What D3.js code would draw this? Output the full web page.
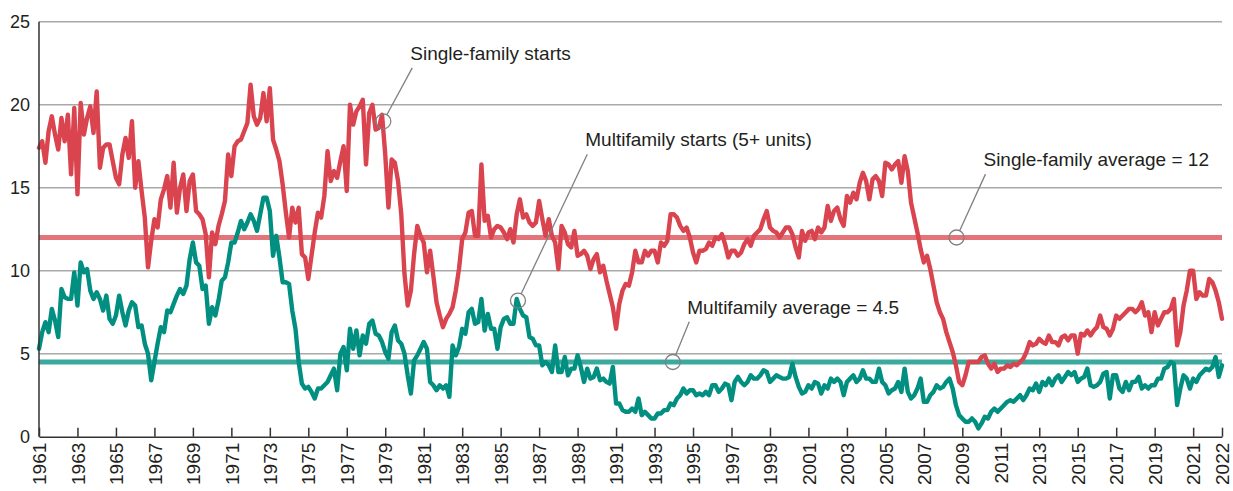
<!DOCTYPE html>
<html>
<head>
<meta charset="utf-8">
<script src="https://cdn.jsdelivr.net/npm/d3@7"></script>
<style>
  body { margin: 0; background: #fff; }
  svg { display: block; font-family: 'Liberation Sans', Arial, sans-serif; }
</style>
</head>
<body>
<div id="chart"></div>
<script>
// housing starts per 1,000 households, read every two months from Jan 1961 to mid 2022
const startYear = 1961;
const perYear = 6;

const singleFamily = [
  17.4, 17.8, 16.5, 18.4, 19.3, 18.2, // 1961
  17.3, 19.2, 17.8, 19.4, 15.8, 19.8,
  14.6, 20.1, 18.2, 19.2, 19.9, 18.3,
  20.8, 16.2, 17.4, 17.6, 17.6, 16.6,
  15.6, 15.2, 17.0, 18.0, 16.8, 19.0, // 1965
  15.0, 16.6, 14.8, 13.2, 10.2, 11.8,
  13.1, 12.6, 14.3, 14.9, 15.7, 13.8,
  16.5, 13.5, 15.0, 15.8, 13.6, 15.4,
  15.8, 13.6, 13.4, 13.1, 12.2, 9.6,
  12.3, 11.6, 12.7, 13.4, 14.2, 17.0, // 1970
  15.7, 17.5, 17.8, 17.9, 18.4, 18.9,
  21.2, 19.3, 18.8, 19.2, 20.7, 19.0,
  21.0, 17.9, 17.3, 16.6, 15.2, 13.5,
  12.0, 13.8, 12.9, 13.8, 11.0, 10.8,
  9.5, 10.9, 12.3, 13.5, 13.2, 14.5, // 1975
  17.2, 15.4, 16.0, 15.6, 16.6, 17.5,
  14.8, 20.0, 18.8, 19.6, 19.9, 20.3,
  16.4, 19.5, 20.0, 18.5, 18.6, 19.4,
  17.0, 13.8, 16.7, 16.5, 15.4, 13.4,
  9.8, 7.9, 8.8, 11.0, 12.7, 12.1, // 1980
  11.7, 9.9, 11.2, 9.7, 8.1, 7.3,
  6.6, 7.1, 7.4, 7.8, 8.8, 10.1,
  11.9, 12.3, 13.5, 13.6, 12.1, 12.1,
  16.4, 13.0, 13.3, 12.0, 12.5, 12.7,
  12.6, 12.3, 11.9, 12.5, 11.7, 13.4, // 1985
  14.3, 13.2, 13.4, 12.9, 12.7, 12.9,
  14.2, 13.1, 12.1, 13.1, 12.1, 11.7,
  10.1, 12.7, 12.3, 11.6, 11.4, 12.4,
  10.9, 11.0, 11.2, 10.9, 10.1, 10.7,
  11.0, 9.9, 10.3, 9.4, 8.6, 7.8, // 1990
  6.5, 8.0, 8.8, 9.2, 9.1, 9.9,
  11.2, 10.5, 10.5, 11.2, 10.9, 11.2,
  11.2, 10.5, 11.7, 11.5, 11.8, 13.4,
  13.4, 13.2, 12.7, 12.4, 12.6, 12.0,
  11.1, 10.5, 11.2, 11.2, 11.3, 11.7, // 1995
  11.5, 12.0, 11.9, 12.2, 11.6, 10.8,
  11.2, 11.2, 10.9, 11.1, 11.6, 11.9,
  11.5, 12.1, 12.3, 12.5, 13.1, 13.6,
  12.6, 12.4, 12.3, 12.0, 12.3, 12.6,
  12.6, 12.2, 11.4, 10.8, 12.4, 11.8, // 2000
  12.3, 12.4, 11.9, 12.6, 12.3, 12.6,
  13.9, 13.0, 13.6, 13.8, 13.1, 12.7,
  14.5, 14.1, 14.7, 14.3, 15.3, 15.9,
  15.4, 14.3, 15.5, 15.7, 15.4, 14.5,
  16.5, 16.4, 16.1, 16.4, 16.6, 15.3, // 2005
  16.9, 16.0, 14.1, 13.2, 12.3, 11.3,
  10.5, 10.9, 10.1, 9.1, 8.1, 7.5,
  7.1, 6.3, 5.7, 5.1, 4.3, 3.3,
  3.1, 3.7, 4.5, 4.5, 4.5, 4.5,
  4.8, 4.9, 4.4, 4.1, 4.4, 3.9, // 2010
  4.1, 4.1, 4.3, 4.2, 4.4, 4.3,
  4.5, 4.7, 5.1, 5.7, 5.5, 5.6,
  5.9, 5.7, 5.6, 6.1, 5.7, 5.7,
  5.5, 6.0, 6.1, 5.8, 6.1, 6.1,
  5.0, 6.2, 6.1, 6.4, 6.1, 6.4, // 2015
  6.6, 7.3, 6.6, 6.5, 6.1, 6.5,
  7.3, 7.1, 7.3, 7.5, 7.7, 7.7,
  7.5, 7.7, 8.1, 7.3, 7.5, 6.3,
  7.5, 6.7, 7.1, 7.5, 7.5, 7.7,
  8.3, 5.5, 6.3, 7.9, 8.8, 10.0, // 2020
  10.0, 8.3, 8.7, 8.5, 8.5, 9.5,
  9.3, 8.8, 8.1, 7.1
];

const multiFamily = [
  5.3, 6.3, 6.9, 6.3, 7.7, 7.0, // 1961
  6.0, 8.9, 8.4, 8.3, 8.3, 9.9,
  7.9, 10.5, 9.9, 10.1, 8.8, 8.3,
  8.7, 8.3, 7.6, 8.5, 7.1, 6.8,
  7.3, 8.5, 7.5, 6.7, 7.6, 8.1, // 1965
  7.9, 6.6, 6.7, 5.6, 5.0, 3.4,
  4.5, 5.6, 6.6, 6.3, 7.6, 7.5,
  8.0, 8.5, 8.9, 8.6, 9.1, 10.7,
  11.7, 10.5, 10.3, 8.9, 9.1, 6.8,
  7.8, 7.3, 8.2, 9.4, 9.6, 10.5, // 1970
  11.7, 11.7, 12.3, 13.0, 12.5, 12.9,
  13.4, 13.0, 12.4, 13.4, 14.4, 14.4,
  13.6, 10.9, 12.1, 10.8, 9.3, 9.3,
  9.2, 7.6, 6.5, 4.5, 3.2, 2.9,
  3.0, 2.7, 2.3, 2.9, 2.9, 3.1, // 1975
  3.3, 3.7, 4.1, 2.8, 5.0, 5.4,
  4.0, 6.5, 5.3, 6.4, 4.9, 6.1,
  5.6, 6.8, 7.0, 6.2, 6.1, 5.7,
  5.1, 4.7, 6.3, 6.7, 5.8, 5.6,
  5.0, 3.7, 2.6, 4.6, 4.9, 5.3, // 1980
  5.7, 5.3, 3.3, 3.1, 2.8, 3.1,
  2.9, 3.1, 2.4, 5.5, 4.9, 5.4,
  6.5, 6.2, 7.5, 7.7, 6.8, 6.9,
  8.3, 6.4, 7.4, 6.5, 6.5, 5.3,
  6.6, 7.1, 7.2, 6.8, 6.8, 8.3, // 1985
  7.7, 7.3, 7.2, 6.0, 5.9, 5.5,
  5.5, 4.3, 4.5, 4.3, 3.9, 5.5,
  3.9, 3.9, 4.8, 3.7, 4.1, 4.1,
  4.9, 4.2, 3.3, 4.1, 3.5, 3.6,
  4.1, 3.4, 3.5, 3.3, 3.2, 4.2, // 1990
  2.0, 2.0, 1.6, 1.5, 1.5, 1.7,
  1.5, 2.3, 1.3, 1.5, 1.3, 1.1,
  1.1, 1.4, 1.4, 1.6, 1.6, 2.0,
  1.9, 2.3, 2.5, 2.9, 2.6, 2.8,
  2.8, 2.5, 2.6, 2.5, 2.7, 2.5, // 1995
  3.1, 3.1, 2.7, 2.9, 3.2, 3.1,
  2.2, 3.3, 3.6, 3.3, 3.1, 3.3,
  3.7, 3.5, 3.5, 3.7, 4.0, 3.9,
  3.3, 3.5, 3.7, 3.6, 3.5, 3.5,
  3.6, 4.4, 3.6, 3.0, 2.6, 2.7, // 2000
  3.1, 2.9, 3.3, 3.2, 2.6, 3.1,
  2.9, 3.5, 3.3, 3.5, 3.3, 2.5,
  3.3, 3.5, 3.7, 3.3, 3.5, 4.0,
  3.5, 3.5, 3.3, 3.3, 4.1, 3.3,
  3.1, 2.6, 2.8, 2.9, 3.3, 2.7, // 2005
  4.1, 2.7, 2.3, 2.5, 2.9, 3.5,
  2.1, 2.1, 2.5, 2.7, 3.1, 2.9,
  3.0, 3.3, 3.5, 2.9, 1.9, 1.3,
  1.1, 0.9, 0.9, 1.1, 0.9, 0.5,
  0.8, 1.2, 1.1, 1.5, 1.7, 1.5, // 2010
  1.7, 1.9, 2.1, 2.2, 2.1, 2.3,
  2.5, 2.2, 2.5, 2.9, 2.8, 3.2,
  2.7, 3.3, 3.1, 3.5, 3.1, 3.5,
  3.7, 3.3, 3.6, 3.9, 3.7, 3.9,
  3.3, 3.5, 3.6, 4.1, 3.1, 3.0, // 2015
  3.1, 3.3, 3.8, 3.9, 2.3, 3.7,
  3.7, 2.9, 2.7, 3.3, 2.8, 3.3,
  3.3, 3.6, 2.9, 3.1, 2.9, 3.1,
  3.1, 3.5, 3.5, 4.1, 4.2, 4.5,
  4.4, 1.9, 2.9, 3.7, 3.5, 2.9, // 2020
  3.5, 3.3, 3.7, 3.9, 4.1, 4.0,
  4.2, 4.8, 3.6, 4.3
];

const singleAverage = 12;
const multiAverage = 4.5;

const yTicks = [5, 10, 15, 20, 25];
const yTickLabels = ['0', '5', '10', '15', '20', '25'];
const xTicks = [1961, 1963, 1965, 1967, 1969, 1971, 1973, 1975, 1977, 1979, 1981, 1983, 1985,
  1987, 1989, 1991, 1993, 1995, 1997, 1999, 2001, 2003, 2005, 2007, 2009, 2011, 2013, 2015,
  2017, 2019, 2021, 2022.5];
const xTickLabels = ['1961', '1963', '1965', '1967', '1969', '1971', '1973', '1975', '1977',
  '1979', '1981', '1983', '1985', '1987', '1989', '1991', '1993', '1995', '1997', '1999',
  '2001', '2003', '2005', '2007', '2009', '2011', '2013', '2015', '2017', '2019', '2021', '2022'];

// callouts: circle on the series, label position (year, value)
const notes = [
  { text: 'Single-family starts', cx: 1978.9, cy: 19.0, lx: 1980.3, ly: 22.7 },
  { text: 'Multifamily starts (5+ units)', cx: 1985.9, cy: 8.2, lx: 1989.4, ly: 17.5 },
  { text: 'Single-family average = 12', cx: 2008.7, cy: 12, lx: 2010.1, ly: 16.3 },
  { text: 'Multifamily average = 4.5', cx: 1993.95, cy: 4.5, lx: 1994.7, ly: 7.4 }
];

const width = 1233;
const height = 491;
const margin = { top: 21.7, right: 11, bottom: 54.3, left: 39 };

const red = '#d9444f';
const redAvg = '#e2747a';
const teal = '#008f80';
const tealAvg = '#3aaa9e';

const svg = d3.select('#chart')
  .append('svg')
  .attr('width', width)
  .attr('height', height);

const x = d3.scaleLinear()
  .domain([1961, 2022.5])
  .range([margin.left, width - margin.right]);

const y = d3.scaleLinear()
  .domain([0, 25])
  .range([height - margin.bottom, margin.top]);

// grid
svg.append('g')
  .selectAll('line')
  .data(yTicks)
  .enter()
  .append('line')
  .attr('x1', x(1961))
  .attr('x2', x(2022.5))
  .attr('y1', d => y(d))
  .attr('y2', d => y(d))
  .attr('stroke', '#a9a9a9')
  .attr('stroke-width', 1.4);

// y labels
const yAxis = d3.axisLeft(y)
  .tickValues([0, 5, 10, 15, 20, 25])
  .tickFormat((d, i) => yTickLabels[i])
  .tickSize(0)
  .tickPadding(9);

svg.append('g')
  .attr('transform', `translate(${margin.left}, 0)`)
  .call(yAxis)
  .call(g => g.select('.domain').remove())
  .selectAll('text')
  .attr('font-size', 18)
  .attr('font-family', "'Liberation Sans', Arial, sans-serif")
  .attr('fill', '#231f20');

// averages
svg.append('line')
  .attr('x1', x(1961)).attr('x2', x(2022.5))
  .attr('y1', y(singleAverage)).attr('y2', y(singleAverage))
  .attr('stroke', redAvg)
  .attr('stroke-width', 5);

svg.append('line')
  .attr('x1', x(1961)).attr('x2', x(2022.5))
  .attr('y1', y(multiAverage)).attr('y2', y(multiAverage))
  .attr('stroke', tealAvg)
  .attr('stroke-width', 5);

const line = d3.line()
  .x((d, i) => x(startYear + i / perYear))
  .y(d => y(d));

svg.append('path')
  .datum(multiFamily)
  .attr('d', line)
  .attr('fill', 'none')
  .attr('stroke', teal)
  .attr('stroke-width', 4.4)
  .attr('stroke-linejoin', 'round')
  .attr('stroke-linecap', 'round');

svg.append('path')
  .datum(singleFamily)
  .attr('d', line)
  .attr('fill', 'none')
  .attr('stroke', red)
  .attr('stroke-width', 4.4)
  .attr('stroke-linejoin', 'round')
  .attr('stroke-linecap', 'round');

// axes lines
svg.append('line')
  .attr('x1', x(1961)).attr('x2', x(1961))
  .attr('y1', y(25)).attr('y2', y(0))
  .attr('stroke', '#333')
  .attr('stroke-width', 1.5);

const xAxis = d3.axisBottom(x)
  .tickValues(xTicks)
  .tickFormat((d, i) => xTickLabels[i])
  .tickSizeInner(-9)
  .tickSizeOuter(0)
  .tickPadding(6);

const xg = svg.append('g')
  .attr('transform', `translate(0, ${y(0)})`)
  .call(xAxis);

xg.select('.domain').attr('stroke', '#333').attr('stroke-width', 1.5);
xg.selectAll('.tick line').attr('stroke', '#333').attr('stroke-width', 1.5);
xg.selectAll('.tick text')
  .attr('font-size', 19)
  .attr('font-family', "'Liberation Sans', Arial, sans-serif")
  .attr('fill', '#231f20')
  .attr('text-anchor', 'end')
  .attr('transform', 'rotate(-90)')
  .attr('x', -6)
  .attr('y', 0)
  .attr('dy', '0.35em');

// callouts
const note = svg.append('g').selectAll('g')
  .data(notes)
  .enter()
  .append('g');

note.append('circle')
  .attr('cx', d => x(d.cx))
  .attr('cy', d => y(d.cy))
  .attr('r', 7.5)
  .attr('fill', 'none')
  .attr('stroke', '#808080')
  .attr('stroke-width', 1.3);

note.append('line')
  .attr('x1', d => {
    const dx = x(d.lx) + 2 - x(d.cx), dy = y(d.ly) + 8 - y(d.cy);
    return x(d.cx) + 7.5 * dx / Math.hypot(dx, dy);
  })
  .attr('y1', d => {
    const dx = x(d.lx) + 2 - x(d.cx), dy = y(d.ly) + 8 - y(d.cy);
    return y(d.cy) + 7.5 * dy / Math.hypot(dx, dy);
  })
  .attr('x2', d => x(d.lx) + 2)
  .attr('y2', d => y(d.ly) + 8)
  .attr('stroke', '#808080')
  .attr('stroke-width', 1.3);

note.append('text')
  .attr('x', d => x(d.lx))
  .attr('y', d => y(d.ly))
  .attr('font-size', 19)
  .attr('fill', '#231f20')
  .text(d => d.text);
</script>
</body>
</html>
